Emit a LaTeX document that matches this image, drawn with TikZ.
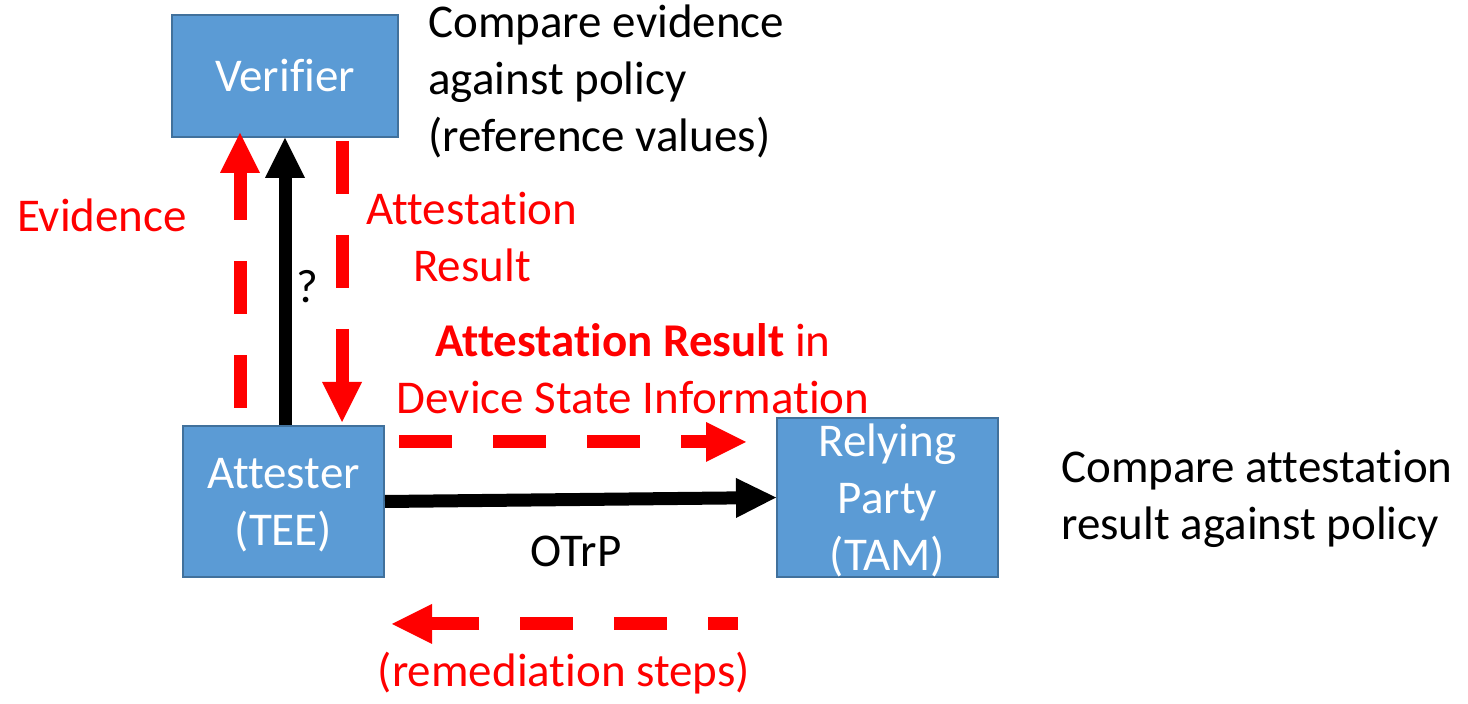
\documentclass[tikz,border=0pt]{standalone}
\usepackage{fontspec}
\setmainfont{Carlito}[Ligatures=NoCommon]
\usetikzlibrary{arrows.meta,calc}
\definecolor{boxfill}{RGB}{91,155,213}
\definecolor{boxline}{RGB}{65,113,156}
\definecolor{msgred}{RGB}{255,0,0}
\begin{document}
\begin{tikzpicture}[x=0.5pt,y=-0.5pt,
  txt/.style={font={\fontsize{23.5}{28.5}\selectfont}, inner sep=0pt},
  entity/.style={txt, draw=boxline, line width=1pt, fill=boxfill, text=white,
    align=center, rectangle},
  redlabel/.style={txt, text=msgred},
  msgarrow/.style={draw=msgred, line width=6.5pt, dash pattern=on 26.5pt off 20.5pt,
    -{Triangle[length=20pt,width=20pt,line width=0pt]}},
  callarrow/.style={draw=black, line width=6.5pt,
    -{Triangle[length=20pt,width=20pt,line width=0pt]}},
]
\useasboundingbox (0,0) rectangle (1468,704);

% entities
\node[entity, minimum width=113pt, minimum height=61pt] (ver) at (285,76) {Verifier};
\node[entity, text depth=0pt, minimum width=100.5pt, minimum height=75.5pt] (att) at (283.5,501.5) {Attester\\(TEE)};
\node[entity, text depth=0pt, minimum width=110.5pt, minimum height=79.5pt] (rp) at (887.5,497.5) {Relying\\Party\\(TAM)};

% end points of the message arrows
\coordinate (evS) at (240,408);
\coordinate (evE) at (240,133);
\coordinate (arS) at (342,141);
\coordinate (arE) at (342,422);
\coordinate (dsS) at (399,442);
\coordinate (dsE) at (746,442);
\coordinate (rmS) at (738,624);
\coordinate (rmE) at (392,624);

% connectors
\draw[msgarrow] (evS) -- (evE);
\draw[callarrow] (att.north -| ver.south) -- (ver.south);
\draw[msgarrow] (arS) -- (arE);
\draw[msgarrow] (dsS) -- (dsE);
\draw[callarrow] (att.east) -- (rp.west);
\draw[msgarrow, dash phase=11.5pt] (rmS) -- (rmE);

% labels (base anchor of a multi-line node = baseline of its last line)
\node[redlabel, anchor=base] (evidence) at (102,232) {Evidence};
\node[txt, anchor=base] (query) at (307,303) {?};
\node[redlabel, anchor=base, align=center] (result) at (472,282) {Attestation\\Result};
\node[redlabel, anchor=base, align=center] (dsi) at (633,414) {\textbf{Attestation Result} in\\Device State Information};
\node[txt, anchor=base] (otrp) at (576,567) {OTrP};
\node[redlabel, anchor=base] (remed) at (564,687) {(remediation steps)};
\node[txt, anchor=base west, align=left] (vpolicy) at (428,152) {Compare evidence\\against policy\\(reference values)};
\node[txt, anchor=base west, align=left] (rpolicy) at (1061,540) {Compare attestation\\result against policy};
\end{tikzpicture}
\end{document}
